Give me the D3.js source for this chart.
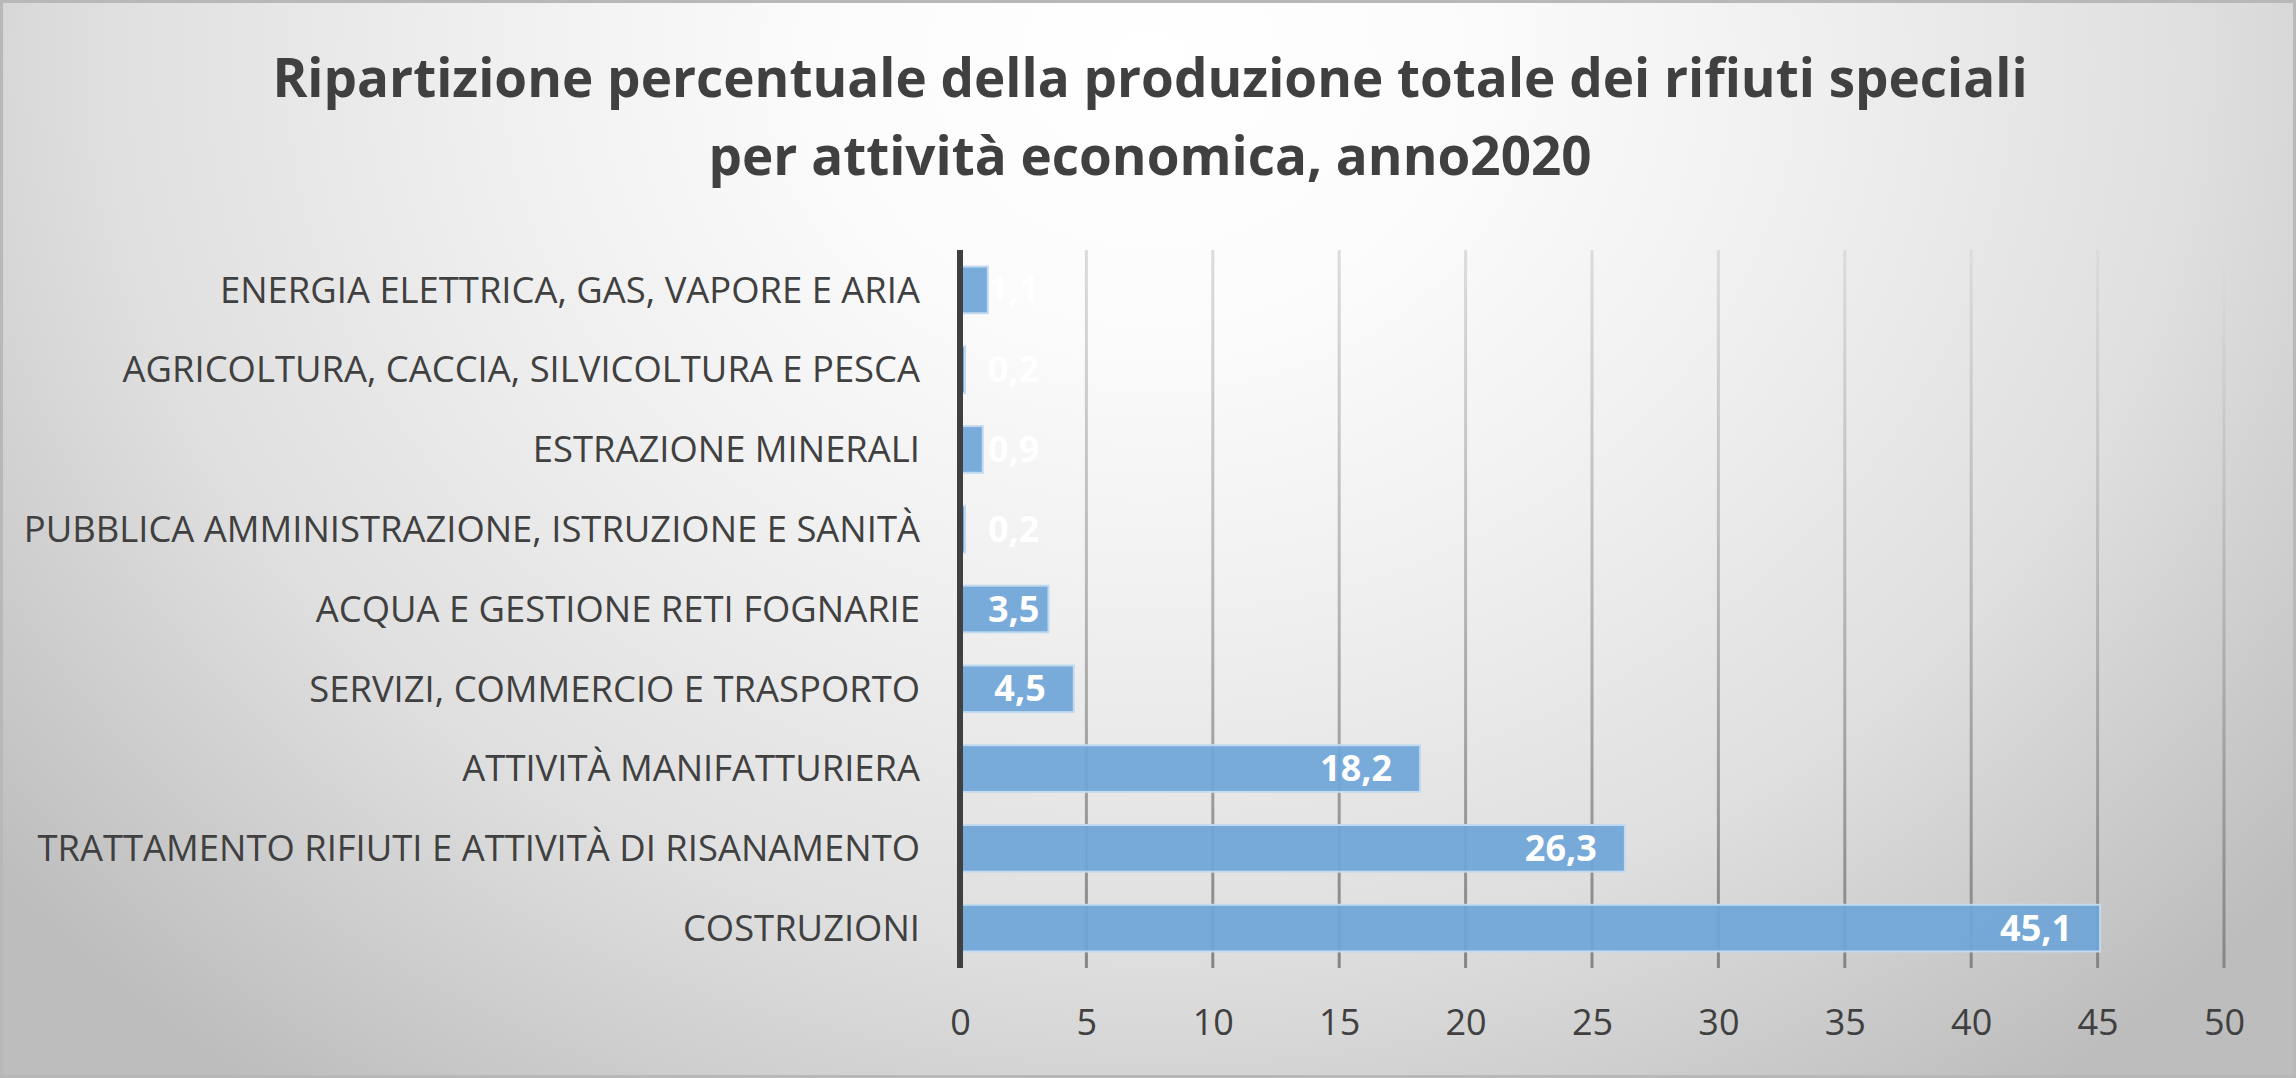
<!DOCTYPE html>
<html><head><meta charset="utf-8">
<script src="https://cdn.jsdelivr.net/npm/d3@7"></script>
<style>html,body{margin:0;padding:0;background:#fff;}svg{display:block;}</style>
</head><body>
<script>
const categories = [
  "ENERGIA ELETTRICA, GAS, VAPORE E ARIA",
  "AGRICOLTURA, CACCIA, SILVICOLTURA E PESCA",
  "ESTRAZIONE MINERALI",
  "PUBBLICA AMMINISTRAZIONE, ISTRUZIONE E SANITÀ",
  "ACQUA E GESTIONE RETI FOGNARIE",
  "SERVIZI, COMMERCIO E TRASPORTO",
  "ATTIVITÀ MANIFATTURIERA",
  "TRATTAMENTO RIFIUTI E ATTIVITÀ DI RISANAMENTO",
  "COSTRUZIONI"
];
const values = [1.1, 0.2, 0.9, 0.2, 3.5, 4.5, 18.2, 26.3, 45.1];
const xTicks = [0, 5, 10, 15, 20, 25, 30, 35, 40, 45, 50];
const titleLines = [
  "Ripartizione percentuale della produzione totale dei rifiuti speciali",
  "per attività economica, anno2020"
];

const W = 2296, H = 1078;
const font = "'Open Sans', 'Noto Sans', sans-serif";
const svg = d3.select("body").append("svg").attr("width", W).attr("height", H);
const defs = svg.append("defs");

const bg = defs.append("radialGradient").attr("id", "bg")
  .attr("gradientUnits", "userSpaceOnUse")
  .attr("cx", 1150).attr("cy", 60).attr("r", 1500)
  .attr("gradientTransform", "translate(1150,60) scale(1,0.85) translate(-1150,-60)");
[[0, "#ffffff"], [0.22, "#fbfbfb"], [0.45, "#efefef"], [0.7, "#dfdfdf"], [1, "#bdbdbd"]]
  .forEach(([o, c]) => bg.append("stop").attr("offset", o).attr("stop-color", c));

const gridGrad = defs.append("linearGradient").attr("id", "gridGrad")
  .attr("gradientUnits", "userSpaceOnUse")
  .attr("x1", 0).attr("y1", 250).attr("x2", 0).attr("y2", 968);
[[0, "#dcdcdc"], [0.5, "#b4b4b4"], [1, "#858585"]]
  .forEach(([o, c]) => gridGrad.append("stop").attr("offset", o).attr("stop-color", c));

svg.append("rect").attr("width", W).attr("height", H).attr("fill", "url(#bg)");
svg.append("rect").attr("x", 0).attr("y", 0).attr("width", W).attr("height", H)
  .attr("fill", "none").attr("stroke", "#b8b8b8").attr("stroke-width", 6);

const x = d3.scaleLinear().domain([0, 50]).range([960, 2224]);
const y = d3.scaleBand().domain(categories).range([250, 968]).paddingInner(0.415).paddingOuter(0.2075);

// title
svg.append("g").selectAll("text").data(titleLines).join("text")
  .attr("x", W / 2 + 2).attr("y", (d, i) => 76 + i * 78)
  .attr("text-anchor", "middle").attr("dominant-baseline", "central")
  .attr("font-family", font).attr("font-weight", "bold").attr("font-size", 53)
  .attr("fill", "#404040").text(d => d);

// gridlines
svg.append("g").selectAll("line").data(xTicks.filter(t => t > 0)).join("line")
  .attr("x1", d => x(d)).attr("x2", d => x(d))
  .attr("y1", 250).attr("y2", 968)
  .attr("stroke", "url(#gridGrad)").attr("stroke-width", 3);

// bars
svg.append("g").selectAll("rect").data(values).join("rect")
  .attr("x", x(0)).attr("y", (d, i) => y(categories[i]))
  .attr("width", d => x(d) - x(0)).attr("height", y.bandwidth())
  .attr("fill", "#6fa5d8").attr("fill-opacity", 0.93)
  .attr("stroke", "#c2daf0").attr("stroke-width", 2);

// axis line
svg.append("line").attr("x1", x(0)).attr("x2", x(0)).attr("y1", 250).attr("y2", 968)
  .attr("stroke", "#404040").attr("stroke-width", 6);

// x axis tick labels
const xAxis = d3.axisBottom(x).tickValues(xTicks).tickSize(0).tickPadding(0);
const gx = svg.append("g").attr("transform", "translate(0,1022)").call(xAxis);
gx.select(".domain").remove();
gx.selectAll("text").attr("font-family", font).attr("font-size", 36)
  .attr("fill", "#404040").attr("dy", "0.35em").attr("y", 0);

// category labels
const yAxis = d3.axisLeft(y).tickSize(0).tickPadding(0);
const gy = svg.append("g").attr("transform", "translate(920,0)").call(yAxis);
gy.select(".domain").remove();
gy.selectAll("text").attr("font-family", font).attr("font-size", 36.4)
  .attr("fill", "#404040").attr("dy", "0.35em").attr("x", 0);

// data labels
const loc = d3.formatLocale({decimal: ",", thousands: ".", grouping: [3], currency: ["", "€"]});
const fmt = loc.format(".1f");
const lbl = svg.append("g").selectAll("text").data(values).join("text")
  .attr("y", (d, i) => y(categories[i]) + y.bandwidth() / 2)
  .attr("dy", "0.35em").attr("text-anchor", "end")
  .attr("font-family", font).attr("font-weight", "bold").attr("font-size", 36)
  .attr("fill", "#ffffff").text(d => fmt(d));
lbl.attr("x", function(d) {
  const w = this.getComputedTextLength();
  return Math.max(x(d) - 28, x(0) + 28 + w);
});
</script>
</body></html>
